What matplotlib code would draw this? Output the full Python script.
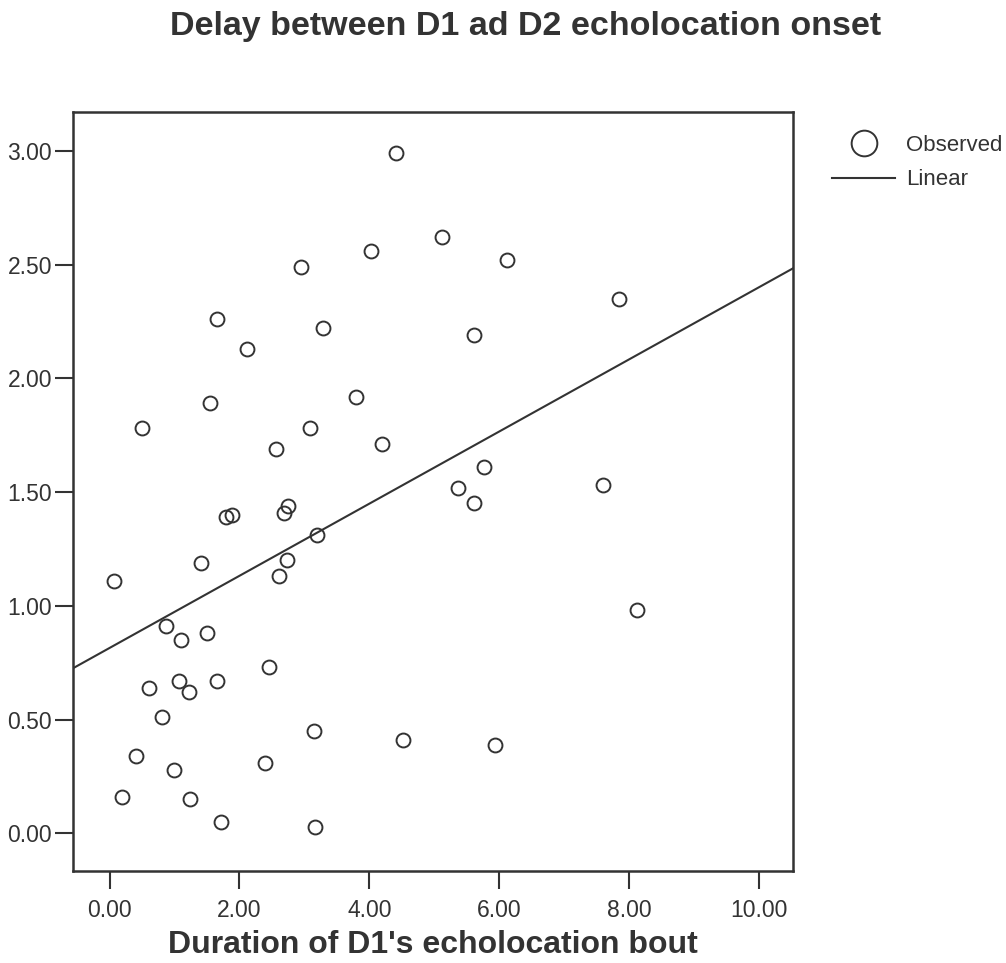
import numpy as np
import matplotlib
matplotlib.use('Agg')
from matplotlib import pyplot as plt

plt.rcParams['font.family'] = ['Liberation Sans', 'DejaVu Sans']

# duration of D1's echolocation bout vs delay to D2 onset
duration = [4.41, 5.12, 4.02, 2.95, 1.65, 3.29, 2.12, 1.55, 3.80, 0.50,
            3.09, 2.56, 4.20, 6.12, 7.84, 5.61, 5.76, 5.37, 5.61, 7.60,
            1.79, 1.88, 2.68, 2.75, 3.19, 2.74, 2.61, 1.41, 0.07, 0.87,
            1.10, 1.50, 2.46, 1.07, 0.60, 1.22, 1.65, 0.80, 3.15, 4.52,
            0.40, 1.00, 2.40, 0.19, 1.24, 1.72, 3.17, 8.13, 5.94]
delay = [2.99, 2.62, 2.56, 2.49, 2.26, 2.22, 2.13, 1.89, 1.92, 1.78,
         1.78, 1.69, 1.71, 2.52, 2.35, 2.19, 1.61, 1.52, 1.45, 1.53,
         1.39, 1.40, 1.41, 1.44, 1.31, 1.20, 1.13, 1.19, 1.11, 0.91,
         0.85, 0.88, 0.73, 0.67, 0.64, 0.62, 0.67, 0.51, 0.45, 0.41,
         0.34, 0.28, 0.31, 0.16, 0.15, 0.05, 0.03, 0.98, 0.39]

# linear fit coefficients
fit_intercept = 0.815
fit_slope = 0.1585

x_ticks = [0, 2, 4, 6, 8, 10]
y_ticks = [0, 0.5, 1.0, 1.5, 2.0, 2.5, 3.0]

ink = '#333333'

fig = plt.figure(figsize=(10.06, 9.63), dpi=100)
ax = fig.add_axes([0.0723, 0.0958, 0.7163, 0.7876])

xlim = (-0.567, 10.53)
ylim = (-0.164, 3.169)

obs, = ax.plot(duration, delay, 'o', ms=10, mfc='none', mec=ink, mew=1.4,
               label='Observed')
xs = np.array(xlim)
lin, = ax.plot(xs, fit_intercept + fit_slope * xs, '-', color=ink, lw=1.5,
               label='Linear')

ax.set_xlim(xlim)
ax.set_ylim(ylim)
ax.set_xticks(x_ticks)
ax.set_yticks(y_ticks)
ax.set_xticklabels(['%.2f' % v for v in x_ticks])
ax.set_yticklabels(['%.2f' % v for v in y_ticks])
ax.tick_params(axis='both', length=13, width=1.5, color=ink,
               labelsize=16.5, labelcolor=ink)
ax.tick_params(axis='y', pad=2)
ax.tick_params(axis='x', pad=7)
for s in ax.spines.values():
    s.set_linewidth(1.8)
    s.set_color(ink)

ax.set_xlabel("Duration of D1's echolocation bout", fontsize=23,
              fontweight='bold', color=ink, labelpad=6)
fig.text(0.522, 0.973, 'Delay between D1 ad D2 echolocation onset',
         ha='center', va='center', fontsize=24.5, fontweight='bold', color=ink)

ax.legend(handles=[obs, lin], loc='upper left',
          bbox_to_anchor=(832 / 1006, 1 - 135 / 963),
          bbox_transform=fig.transFigure, frameon=False, fontsize=16,
          markerscale=1.85, handlelength=2.85, handletextpad=0.5,
          borderpad=0, borderaxespad=0, labelspacing=0.6,
          labelcolor=ink)

plt.savefig('out.png', dpi=100)
plt.close()
